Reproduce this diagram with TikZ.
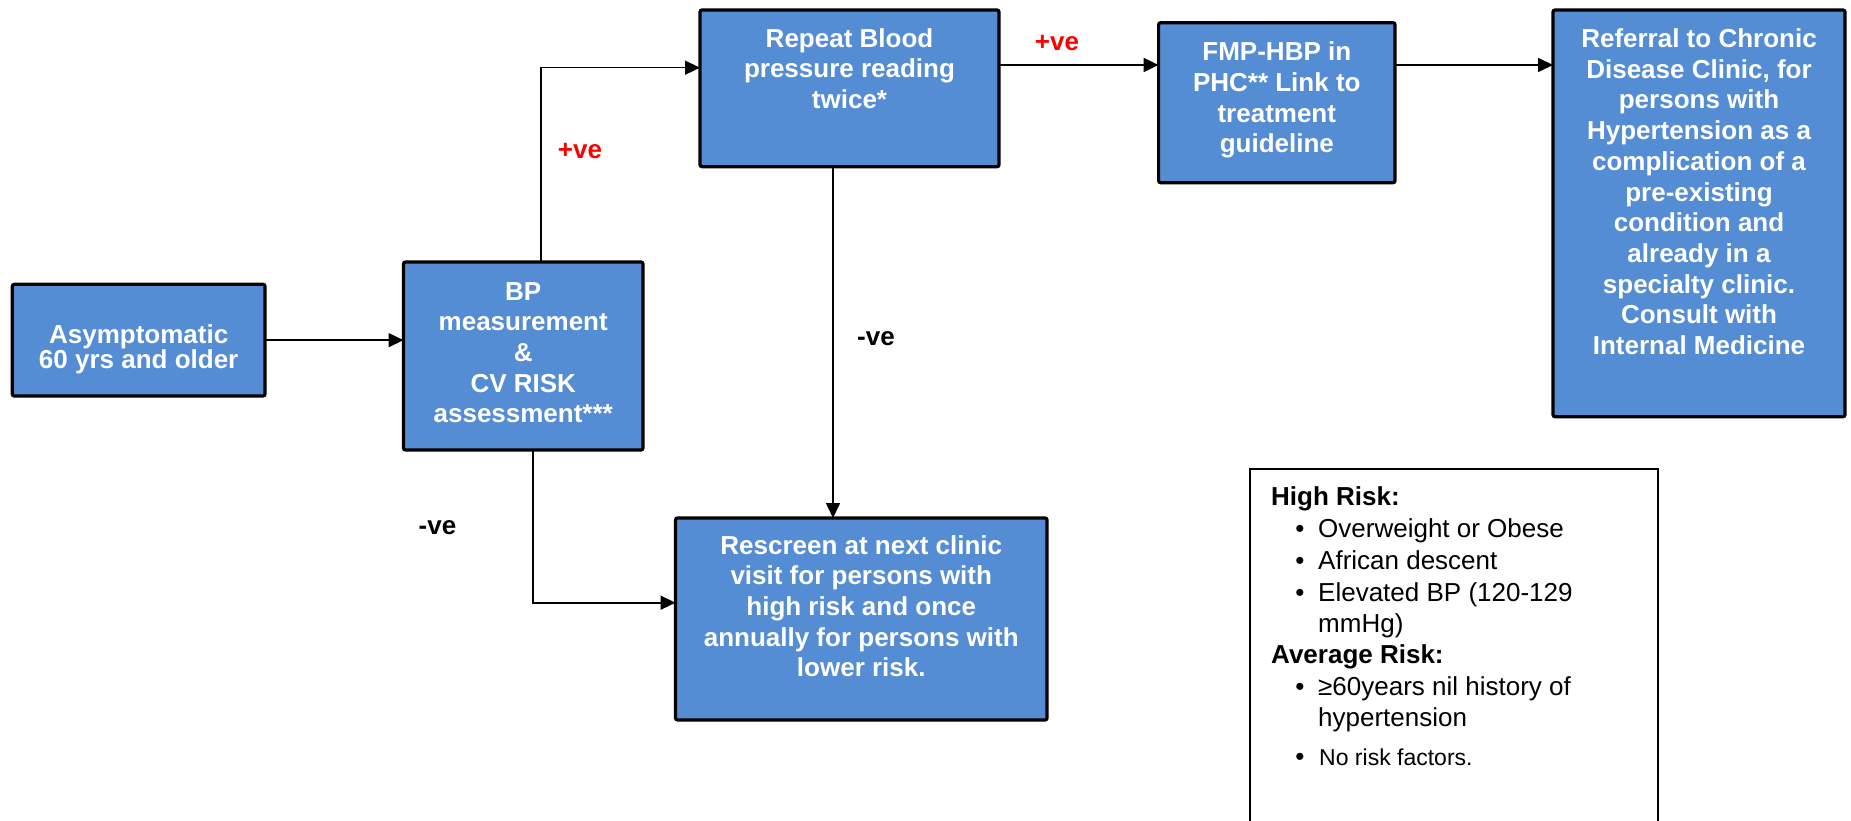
\documentclass[tikz,border=0pt]{standalone}
\usepackage{fontspec}
\setmainfont{Liberation Sans}
\usetikzlibrary{arrows.meta}
\definecolor{boxblue}{RGB}{84,141,212}
\begin{document}
\begin{tikzpicture}[x=1pt,y=-1pt,
  flow/.style={draw=black, line width=3.2pt, fill=boxblue, rounded corners=2pt,
               inner sep=0pt, outer sep=0pt, anchor=north west},
  flowtext/.style={text=white, font=\fontsize{26}{30.7}\selectfont\bfseries,
                   align=center, inner sep=0pt, anchor=north},
  link/.style={line width=1.6pt, -{Triangle[length=15pt,width=14pt]}},
  tag/.style={font=\fontsize{26}{30}\selectfont\bfseries, inner sep=0pt},
  legtxt/.style={font=\fontsize{26}{30}\selectfont, inner sep=0pt, anchor=base west},
  leghead/.style={legtxt, font=\fontsize{26}{30}\selectfont\bfseries},
  dot/.style={font=\fontsize{26}{30}\selectfont, inner sep=0pt, anchor=base}
]
\useasboundingbox (0,0) rectangle (1851,821);

% flow boxes
\node[flow, minimum width=252.7pt, minimum height=111.7pt] (start) at (12.3,284.3) {};
\node[flowtext, font=\fontsize{26}{24}\selectfont\bfseries] (start-t) at ([yshift=-40pt]start.north)
  {Asymptomatic\\60 yrs and older};

\node[flow, minimum width=239.5pt, minimum height=188pt] (meas) at (403.5,262) {};
\node[flowtext] (meas-t) at ([yshift=-20pt]meas.north)
  {BP\\measurement\\\&\\CV RISK\\assessment***};

\node[flow, minimum width=299pt, minimum height=156.7pt] (repeat) at (700,10) {};
\node[flowtext] (repeat-t) at ([yshift=-18pt]repeat.north)
  {Repeat Blood\\pressure reading\\twice*};

\node[flow, minimum width=236.4pt, minimum height=160pt] (fmp) at (1158.6,22.7) {};
\node[flowtext] (fmp-t) at ([yshift=-19pt]fmp.north)
  {FMP-HBP in\\PHC** Link to\\treatment\\guideline};

\node[flow, minimum width=292pt, minimum height=406.7pt] (refer) at (1553,10) {};
\node[flowtext] (refer-t) at ([yshift=-18.5pt]refer.north)
  {Referral to Chronic\\Disease Clinic, for\\persons with\\Hypertension as a\\complication of a\\pre-existing\\condition and\\already in a\\specialty clinic.\\Consult with\\Internal Medicine};

\node[flow, minimum width=371.5pt, minimum height=202pt] (rescreen) at (675.5,518) {};
\node[flowtext] (rescreen-t) at ([yshift=-17pt]rescreen.north)
  {Rescreen at next clinic\\visit for persons with\\high risk and once\\annually for persons with\\lower risk.};

% routing points of the elbow connectors
\coordinate (upturn) at (541,67.7);
\coordinate (downturn) at (533,602.7);
\coordinate (toprow) at (0,65);
\coordinate (midcol) at (833,0);

% connectors
\draw[link] (start.east) -- (start.east -| meas.west);
\draw[link] (upturn |- meas.north) -- (upturn) -- (upturn -| repeat.west);
\draw[link] (toprow -| repeat.east) -- (toprow -| fmp.west);
\draw[link] (toprow -| fmp.east) -- (toprow -| refer.west);
\draw[link] (midcol |- repeat.south) -- (midcol |- rescreen.north);
\draw[link] (downturn |- meas.south) -- (downturn) -- (downturn -| rescreen.west);

% branch labels
\node[tag, text=red] (pos1) at (580,150.7) {+ve};
\node[tag, text=red] (pos2) at (1057,43.3) {+ve};
\node[tag] (neg1) at (876,339) {-ve};
\node[tag] (neg2) at (437.5,528) {-ve};

% risk legend
\draw[line width=2pt] (1249.7,821) -- (1249.7,469.3) -- (1657.8,469.3) -- (1657.8,821);
\node[leghead] (high) at (1271,505) {High Risk:};
\node[dot] (d1) at (1300,537.3) {•};
\node[legtxt] (h1) at (1318,537.3) {Overweight or Obese};
\node[dot] (d2) at (1300,569) {•};
\node[legtxt] (h2) at (1318,569) {African descent};
\node[dot] (d3) at (1300,601.7) {•};
\node[legtxt] (h3) at (1318,601.7) {Elevated BP (120-129};
\node[legtxt] (h3b) at (1318,632.7) {mmHg)};
\node[leghead] (avg) at (1271,663.3) {Average Risk:};
\node[dot] (d4) at (1300,695) {•};
\node[legtxt] (a1) at (1318,695) {≥60years nil history of};
\node[legtxt] (a1b) at (1318,726.7) {hypertension};
\node[dot] (d5) at (1300,765) {•};
\node[legtxt, font=\fontsize{23}{27}\selectfont] (a2) at (1319,765) {No risk factors.};
\end{tikzpicture}
\end{document}
